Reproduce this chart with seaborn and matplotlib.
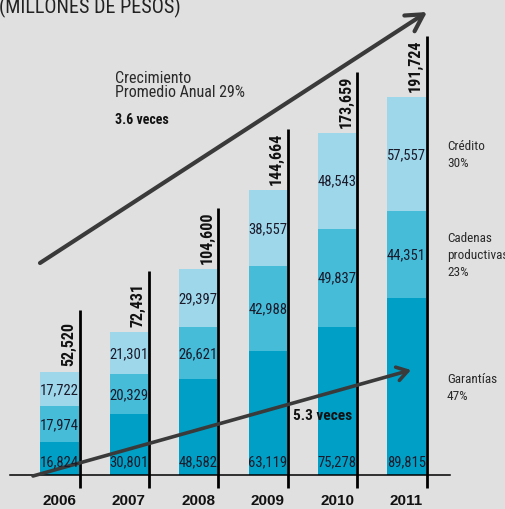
import matplotlib
matplotlib.use('Agg')
import matplotlib.pyplot as plt
import seaborn as sns
import pandas as pd

years = ['2006', '2007', '2008', '2009', '2010', '2011']
garantias = [16824, 30801, 48582, 63119, 75278, 89815]
cadenas = [17974, 20329, 26621, 42988, 49837, 44351]
credito = [17722, 21301, 29397, 38557, 48543, 57557]
totales = [52520, 72431, 104600, 144664, 173659, 191724]
series_labels = ['Crédito\n30%', 'Cadenas\nproductivas\n23%', 'Garantías\n47%']

BG = '#e0e0e0'
C_GAR = '#00a0c6'
C_CAD = '#46bcd9'
C_CRE = '#9fd7ea'
ARROW = '#3a3a3a'
NARROW = ['Roboto Condensed', 'Archivo Narrow', 'PT Sans Narrow', 'DejaVu Sans']
WIDE = ['Liberation Sans', 'DejaVu Sans']

W, H = 506, 510
fig = plt.figure(figsize=(W / 100, H / 100), dpi=100, facecolor=BG)
ax = fig.add_axes([0, 34 / H, 1, 476 / H])
ax.set_facecolor(BG)

gc = [g + c for g, c in zip(garantias, cadenas)]
tot = [g + c + r for g, c, r in zip(garantias, cadenas, credito)]
df = pd.DataFrame({'year': years, 'g': garantias, 'gc': gc, 'tot': tot})

bw = 0.548
for col, colr in [('tot', C_CRE), ('gc', C_CAD), ('g', C_GAR)]:
    sns.barplot(data=df, x='year', y=col, color=colr, saturation=1, width=bw,
                errorbar=None, ax=ax, linewidth=0, edgecolor='none', zorder=2)

ax.set_xlim(-59.5 / 69.4, (W - 59.5) / 69.4)
ax.set_ylim(0, 476 / 1.97 * 1000)
ax.set_xlabel('')
ax.set_ylabel('')
ax.set_yticks([])
for s in ax.spines.values():
    s.set_visible(False)
ax.tick_params(axis='x', length=0, pad=13)
for lab in ax.get_xticklabels():
    lab.set_fontfamily(WIDE)
    lab.set_fontweight('bold')
    lab.set_fontsize(11)
    lab.set_color('#111111')

# baseline
ax.axhline(0, xmin=10 / W, xmax=450 / W, color='black', lw=1.1, zorder=3, clip_on=False)

# vertical black lines + totals
xs = list(range(len(years)))
line_x = [i + bw / 2 + 1 / 69.4 for i in xs]
ax.vlines(line_x, -6600, [t + 31000 for t in tot], color='black', lw=2.0,
          zorder=4, clip_on=False)
for i, t in enumerate(totales):
    ax.annotate(f'{t:,}', xy=(line_x[i], tot[i]), xytext=(-2.5, 4.5),
                textcoords='offset points', rotation=90, ha='right', va='bottom',
                fontfamily=NARROW, fontweight='bold', fontsize=11.5, color='#111111',
                zorder=6)

# segment labels
lab_kw = dict(fontfamily=NARROW, fontsize=10.5, color='#1a1a2a', zorder=6,
              ha='center', textcoords='offset points')
for i in xs:
    ax.annotate(f'{garantias[i]:,}', xy=(i, 0), xytext=(0, 5.0), va='bottom', **lab_kw)
    ax.annotate(f'{cadenas[i]:,}', xy=(i, garantias[i] + cadenas[i] / 2),
                xytext=(0, 0), va='center', **lab_kw)
    ax.annotate(f'{credito[i]:,}', xy=(i, gc[i] + credito[i] / 2),
                xytext=(0, 0), va='center', **lab_kw)

# right-hand series labels at 2011 segment centres
last = len(years) - 1
ys = [gc[last] + credito[last] / 2, garantias[last] + cadenas[last] / 2, garantias[last] / 2]
ytr = ax.get_yaxis_transform()
for lbl, yv in zip(series_labels, ys):
    ax.text(447 / W, yv, lbl, transform=ytr, ha='left', va='center',
            fontfamily=NARROW, fontsize=9.5, color='#2a2a2a', linespacing=1.4,
            clip_on=False)

# arrows (figure pixel coords)
def arrow(x0, y0, x1, y1, lw, hl, hw, ms):
    ax.annotate('', xy=(x1, H - y1), xytext=(x0, H - y0),
                xycoords='figure pixels', textcoords='figure pixels',
                arrowprops=dict(arrowstyle=f'->,head_length={hl},head_width={hw}',
                                lw=lw, color=ARROW, mutation_scale=ms,
                                shrinkA=0, shrinkB=0),
                zorder=5)

arrow(40, 264, 427, 13, 3.0, 0.8, 0.45, 15)
arrow(33, 477, 411, 371, 2.6, 0.7, 0.45, 11)

# texts
fig.text(-0.002, 1 - 13.5 / H, '(MILLONES DE PESOS)', ha='left', va='baseline',
         fontfamily=NARROW, fontsize=14.5, color='#222222')
fig.text(115 / W, 1 - 71 / H, 'Crecimiento\nPromedio Anual 29%', ha='left', va='top',
         fontfamily=NARROW, fontsize=11.5, color='#2a2a2a', linespacing=0.88)
fig.text(115 / W, 1 - 120 / H, '3.6 veces', ha='left', va='center',
         fontfamily=NARROW, fontweight='bold', fontsize=10, color='#111111')
fig.text(293 / W, 1 - 416 / H, '5.3 veces', ha='left', va='center',
         fontfamily=NARROW, fontweight='bold', fontsize=11, color='#111111',
         zorder=7)

fig.savefig('out.png', dpi=100, facecolor=BG)
